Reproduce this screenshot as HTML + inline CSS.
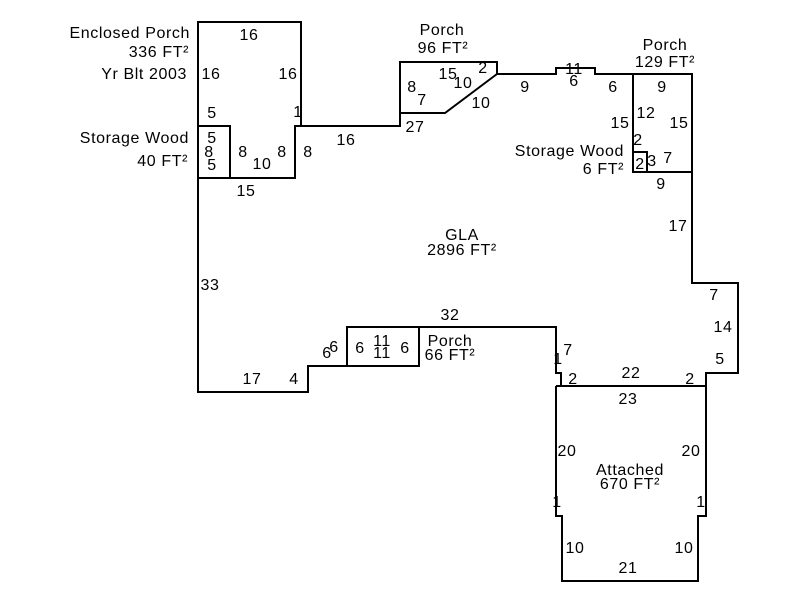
<!DOCTYPE html>
<html><head><style>body{margin:0;background:#fff}svg{display:block}</style></head><body>
<svg width="800" height="600" xmlns="http://www.w3.org/2000/svg" font-family="Liberation Sans, Arial, sans-serif" font-size="16" letter-spacing="0.6" fill="#000">
<g fill="none" stroke="#000" stroke-width="2">
<polyline points="198,178 198,22 301,22 301,126 295,126 295,178 198,178"/>
<rect x="198" y="126" width="32" height="52"/>
<polyline points="301,126 400,126 400,62 497,62 497,74 556,74 556,68 595,68 595,74 633,74 692,74 692,283 738,283 738,373 706,373 706,386"/>
<polyline points="400,113 445,113 497,74"/>
<polyline points="633,74 633,172 692,172"/>
<rect x="633" y="152" width="14" height="20"/>
<polyline points="198,178 198,392 308,392 308,366 347,366"/>
<rect x="347" y="327" width="72" height="39"/>
<polyline points="419,327 556,327 556,373 561,373 561,386"/>
<polyline points="556,386 706,386 706,516 698,516 698,581 562,581 562,516 556,516 556,386"/>
</g>
<g text-anchor="end">
<text x="190" y="38">Enclosed Porch</text>
<text x="189" y="57">336 FT²</text>
<text x="187" y="79">Yr Blt 2003</text>
<text x="189" y="143">Storage Wood</text>
<text x="188" y="166">40 FT²</text>
<text x="624" y="156">Storage Wood</text>
<text x="624" y="174">6 FT²</text>
</g>
<g text-anchor="middle">
<text x="249" y="40">16</text>
<text x="211" y="79">16</text>
<text x="288" y="79">16</text>
<text x="212" y="118">5</text>
<text x="298" y="117">1</text>
<text x="212" y="143">5</text>
<text x="209" y="157">8</text>
<text x="212" y="170">5</text>
<text x="243" y="157">8</text>
<text x="262" y="169">10</text>
<text x="282" y="157">8</text>
<text x="308" y="157">8</text>
<text x="346" y="145">16</text>
<text x="246" y="196">15</text>
<text x="442" y="35">Porch</text>
<text x="443" y="53">96 FT²</text>
<text x="412" y="92">8</text>
<text x="422" y="105">7</text>
<text x="448" y="79">15</text>
<text x="463" y="88">10</text>
<text x="483" y="73">2</text>
<text x="481" y="108">10</text>
<text x="415" y="132">27</text>
<text x="525" y="92">9</text>
<text x="574" y="74">11</text>
<text x="574" y="86">6</text>
<text x="613" y="92">6</text>
<text x="665" y="50">Porch</text>
<text x="665" y="67">129 FT²</text>
<text x="662" y="92">9</text>
<text x="646" y="118">12</text>
<text x="620" y="128">15</text>
<text x="679" y="128">15</text>
<text x="638" y="145">2</text>
<text x="640" y="169">2</text>
<text x="652" y="166">3</text>
<text x="668" y="163">7</text>
<text x="661" y="189">9</text>
<text x="678" y="231">17</text>
<text x="462" y="240">GLA</text>
<text x="462" y="255">2896 FT²</text>
<text x="210" y="290">33</text>
<text x="450" y="320">32</text>
<text x="714" y="300">7</text>
<text x="723" y="332">14</text>
<text x="720" y="364">5</text>
<text x="334" y="352">6</text>
<text x="327" y="358">6</text>
<text x="360" y="353">6</text>
<text x="382" y="346">11</text>
<text x="382" y="358">11</text>
<text x="405" y="353">6</text>
<text x="450" y="346">Porch</text>
<text x="450" y="360">66 FT²</text>
<text x="568" y="355">7</text>
<text x="558" y="364">1</text>
<text x="573" y="384">2</text>
<text x="631" y="378">22</text>
<text x="690" y="384">2</text>
<text x="294" y="384">4</text>
<text x="252" y="384">17</text>
<text x="628" y="404">23</text>
<text x="567" y="456">20</text>
<text x="691" y="456">20</text>
<text x="630" y="475">Attached</text>
<text x="630" y="489">670 FT²</text>
<text x="557" y="507">1</text>
<text x="701" y="507">1</text>
<text x="575" y="553">10</text>
<text x="684" y="553">10</text>
<text x="628" y="573">21</text>
</g>
</svg>
</body></html>
